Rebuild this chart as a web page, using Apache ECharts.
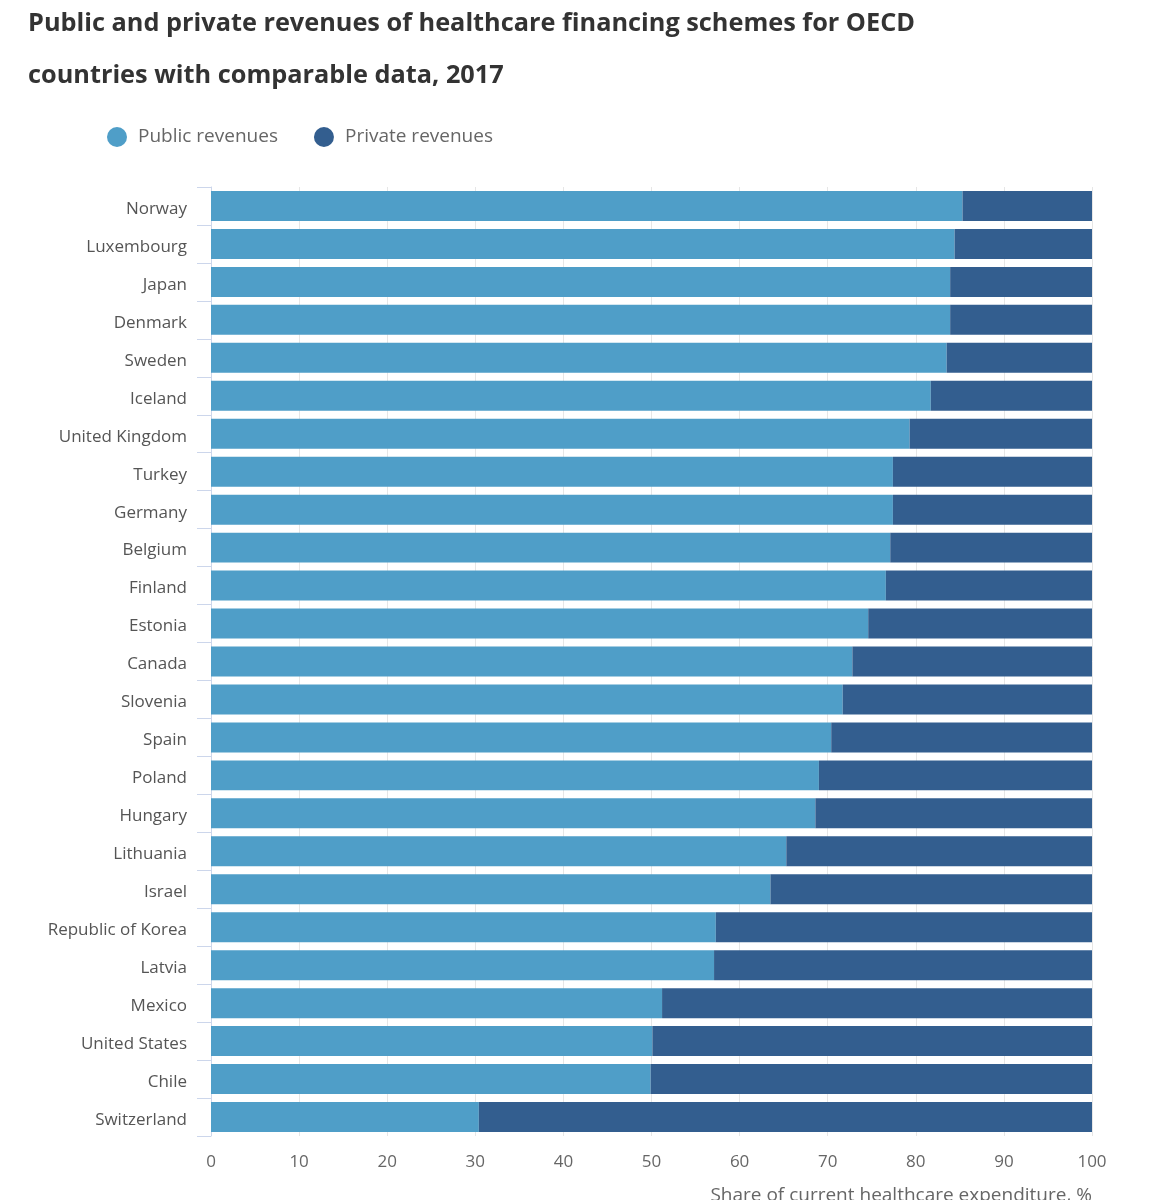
<!DOCTYPE html>
<html>
<head>
<meta charset="utf-8">
<script src="https://cdn.jsdelivr.net/npm/echarts@6/dist/echarts.min.js"></script>
<style>
html,body{margin:0;padding:0;background:#fff;}
#chart{width:1174px;height:1200px;}
</style>
</head>
<body>
<div id="chart"></div>
<script>
const countries = ["Norway","Luxembourg","Japan","Denmark","Sweden","Iceland","United Kingdom","Turkey","Germany","Belgium","Finland","Estonia","Canada","Slovenia","Spain","Poland","Hungary","Lithuania","Israel","Republic of Korea","Latvia","Mexico","United States","Chile","Switzerland"];
const publicRevenues = [85.3,84.4,83.9,83.9,83.5,81.7,79.3,77.4,77.4,77.1,76.6,74.6,72.8,71.7,70.4,69.0,68.6,65.3,63.5,57.3,57.1,51.2,50.1,49.9,30.4];
const privateRevenues = [14.7,15.6,16.1,16.1,16.5,18.3,20.7,22.6,22.6,22.9,23.4,25.4,27.2,28.3,29.6,31.0,31.4,34.7,36.5,42.7,42.9,48.8,49.9,50.1,69.6];
const xTicks = [0,10,20,30,40,50,60,70,80,90,100];

const chart = echarts.init(document.getElementById('chart'), null, {renderer:'canvas'});
const font = '"Open Sans", "Noto Sans", sans-serif';
chart.setOption({
  animation:false,
  backgroundColor:'#fff',
  title:{
    text:'Public and private revenues of healthcare financing schemes for OECD\ncountries with comparable data, 2017',
    left:23, top:-7,
    textStyle:{fontFamily:font,fontSize:25.3,fontWeight:'bold',color:'#333',lineHeight:52}
  },
  legend:{
    left:102, top:122,
    icon:'circle', itemWidth:20, itemHeight:20, itemGap:36,
    textStyle:{fontFamily:font,fontSize:19,color:'#666',padding:[0,0,0,6]},
    data:['Public revenues','Private revenues']
  },
  grid:{left:211,right:82,top:187,bottom:64,containLabel:false},
  xAxis:{
    type:'value', min:0, max:100, interval:10,
    axisLine:{show:false}, axisTick:{show:false},
    splitLine:{show:true,lineStyle:{color:'#e6e6e6',width:1}},
    axisLabel:{fontFamily:font,fontSize:17,color:'#666',margin:18,
      formatter:function(v){return xTicks.indexOf(v)>=0?String(v):'';}}
  },
  yAxis:{
    type:'category', data:countries, inverse:true,
    axisLine:{show:true,lineStyle:{color:'#ccd6eb',width:1}},
    axisTick:{show:true,length:14,alignWithLabel:false,lineStyle:{color:'#ccd6eb'}},
    axisLabel:{margin:24,
      formatter:function(v){return '{c|'+v+'}';},
      rich:{c:{fontFamily:font,fontSize:17,color:'#555',padding:[6,0,0,0]}}}
  },
  series:[
    {name:'Public revenues',type:'bar',stack:'t',data:publicRevenues,barCategoryGap:'21%',
      itemStyle:{color:'#4f9ec8'}},
    {name:'Private revenues',type:'bar',stack:'t',data:privateRevenues,barCategoryGap:'21%',
      itemStyle:{color:'#335e8f'}}
  ],
  graphic:[{
    type:'text', right:82, top:1186,
    style:{text:'Share of current healthcare expenditure, %',fontFamily:font,fontSize:19,fill:'#666'}
  }]
});
</script>
</body>
</html>
